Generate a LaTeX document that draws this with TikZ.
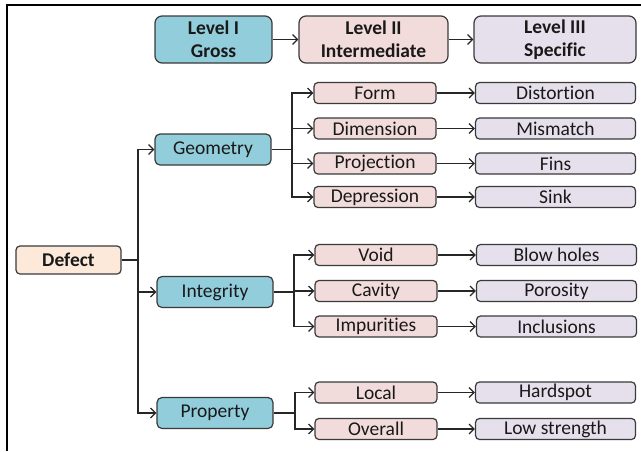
\documentclass[tikz,border=0pt]{standalone}
\usepackage{fontspec}
\setmainfont[Ligatures=NoCommon]{Carlito}
\usetikzlibrary{arrows.meta}
\definecolor{gross}{HTML}{92CDDC}
\definecolor{inter}{HTML}{F2DCDB}
\definecolor{spec}{HTML}{E5E0EC}
\definecolor{root}{HTML}{FDE9D9}
\definecolor{edge}{HTML}{3A3A3A}
\begin{document}
\begin{tikzpicture}[x=1pt,y=-1pt,
  box/.style={draw=edge,line width=1.2pt,rounded corners=4pt,inner sep=0pt,
    font=\fontsize{19.5}{23}\selectfont,text=black!90},
  hdr/.style={box,rounded corners=7pt,minimum height=47pt,align=center,font=\fontsize{19.5}{23}\selectfont\bfseries},
  lvone/.style={box,rounded corners=5pt,fill=gross,minimum width=116pt,minimum height=31pt},
  lvtwo/.style={box,fill=inter,minimum width=122pt,minimum height=21pt},
  lvthree/.style={box,fill=spec,minimum width=160pt,minimum height=21pt},
  conn/.style={draw=black!85,line width=1.3pt},
  arr/.style={conn,-{Straight Barb[length=5pt,width=10pt,line width=1.2pt]}}
]
\useasboundingbox (0,0) rectangle (641,451);
% frame
\draw[line width=1.5pt] (641,5) -- (7,5) -- (7,451);
% header
\node[hdr,fill=gross,minimum width=117pt] (h1) at (213.5,39.5) {Level I\\Gross};
\node[hdr,fill=inter,minimum width=149pt] (h2) at (373.5,39.5) {Level II\\Intermediate};
\node[hdr,fill=spec,minimum width=162pt] (h3) at (555,39.5) {Level III\\Specific};
\draw[arr] (h1.east) -- (h2.west);
\draw[arr] (h2.east) -- (h3.west);
% root
\node[box,fill=root,minimum width=105pt,minimum height=28pt,font=\fontsize{19.5}{23}\selectfont\bfseries] (defect) at (68.5,260) {Defect};
% level I
\node[lvone] (geo) at (213,149.5) {Geometry};
\node[lvone] (integ) at (215,292) {Integrity};
\node[lvone] (prop) at (215,413) {Property};
% level II
\node[lvtwo] (form) at (375,93) {Form};
\node[lvtwo] (dim) at (375,128.5) {Dimension};
\node[lvtwo] (proj) at (375,163.5) {Projection};
\node[lvtwo] (dep) at (375,197) {Depression};
\node[lvtwo] (void) at (376,255) {Void};
\node[lvtwo] (cav) at (376,291) {Cavity};
\node[lvtwo] (imp) at (376,326.5) {Impurities};
\node[lvtwo] (loc) at (376,392.5) {Local};
\node[lvtwo] (ovr) at (376,429) {Overall};
% level III
\node[lvthree] (dist) at (555.5,93) {Distortion};
\node[lvthree] (mis) at (555.5,128.5) {Mismatch};
\node[lvthree] (fins) at (555.5,163.5) {Fins};
\node[lvthree] (sink) at (555.5,197) {Sink};
\node[lvthree] (blow) at (556.5,255) {Blow holes};
\node[lvthree] (por) at (556.5,291) {Porosity};
\node[lvthree] (inc) at (556.5,326.5) {Inclusions};
\node[lvthree] (hard) at (555.5,392.5) {Hardspot};
\node[lvthree] (low) at (555.5,429) {Low strength};
% trunk
\coordinate (t0) at (138,260);
\draw[conn] (defect.east) -- (t0);
\draw[arr] (t0) |- (geo.west);
\draw[arr] (t0) |- (integ.west);
\draw[arr] (t0) |- (prop.west);
% geometry branch
\coordinate (g0) at (292,149.5);
\draw[conn] (geo.east) -- (g0);
\foreach \n in {form,dim,proj,dep} \draw[arr] (g0) |- (\n.west);
% integrity branch
\coordinate (i0) at (294,292);
\draw[conn] (integ.east) -- (i0);
\foreach \n in {void,cav,imp} \draw[arr] (i0) |- (\n.west);
% property branch
\coordinate (p0) at (295,413);
\draw[conn] (prop.east) -- (p0);
\foreach \n in {loc,ovr} \draw[arr] (p0) |- (\n.west);
% level II to III
\draw[arr] (form.east) -- (dist.west);
\draw[arr] (dim.east) -- (mis.west);
\draw[arr] (proj.east) -- (fins.west);
\draw[arr] (dep.east) -- (sink.west);
\draw[arr] (void.east) -- (blow.west);
\draw[arr] (cav.east) -- (por.west);
\draw[arr] (imp.east) -- (inc.west);
\draw[arr] (loc.east) -- (hard.west);
\draw[arr] (ovr.east) -- (low.west);
\end{tikzpicture}
\end{document}
